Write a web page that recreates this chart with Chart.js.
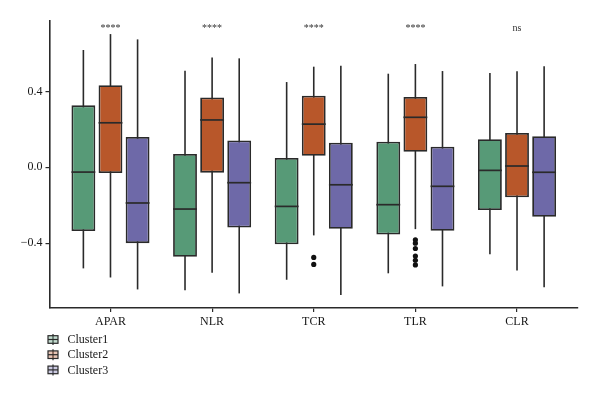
<!DOCTYPE html>
<html><head><meta charset="utf-8">
<script src="https://cdn.jsdelivr.net/npm/chart.js@4.4.0/dist/chart.umd.min.js"></script>
<style>html,body{margin:0;padding:0;background:#fff}#wrap{width:600px;height:398px;position:relative}</style>
</head><body><div id="wrap"><canvas id="c"></canvas></div>
<script>
const categories = ['APAR', 'NLR', 'TCR', 'TLR', 'CLR'];
const seriesNames = ['Cluster1', 'Cluster2', 'Cluster3'];
const sigLabels = ['****', '****', '****', '****', 'ns'];
const yTickValues = [-0.4, 0.0, 0.4];
const yTickLabels = ['\u22120.4', '0.0', '0.4'];

// Cluster1
const c1Low  = [-0.533, -0.648, -0.593, -0.559, -0.459];
const c1Q1   = [-0.336, -0.472, -0.406, -0.354, -0.225];
const c1Med  = [-0.025, -0.220, -0.206, -0.197, -0.016];
const c1Q3   = [ 0.327,  0.070,  0.049,  0.135,  0.148];
const c1High = [ 0.619,  0.510,  0.450,  0.494,  0.498];
// Cluster2
const c2Low  = [-0.581, -0.556, -0.359, -0.326, -0.544];
const c2Q1   = [-0.030, -0.028,  0.061,  0.082, -0.158];
const c2Med  = [ 0.235,  0.250,  0.228,  0.264,  0.007];
const c2Q3   = [ 0.433,  0.369,  0.378,  0.371,  0.181];
const c2High = [ 0.703,  0.580,  0.531,  0.545,  0.507];
const c2Outliers = [[], [], [-0.475, -0.512], [-0.382, -0.400, -0.428, -0.468, -0.490, -0.515], []];
// Cluster3
const c3Low  = [-0.644, -0.665, -0.674, -0.628, -0.632];
const c3Q1   = [-0.400, -0.317, -0.324, -0.335, -0.261];
const c3Med  = [-0.188, -0.081, -0.092, -0.100, -0.026];
const c3Q3   = [ 0.160,  0.142,  0.130,  0.109,  0.164];
const c3High = [ 0.675,  0.575,  0.536,  0.508,  0.533];

const colors = ['#579a77', '#b8572a', '#6e69a8'];
const legendFills = ['rgba(87,154,119,0.35)', 'rgba(184,87,42,0.35)', 'rgba(110,105,168,0.35)'];
const EDGE = '#2a2a2a';
const TEXT = '#161616';
const FONT = '"Liberation Serif", "DejaVu Serif", serif';

const stats = [
  {low: c1Low, q1: c1Q1, med: c1Med, q3: c1Q3, high: c1High},
  {low: c2Low, q1: c2Q1, med: c2Med, q3: c2Q3, high: c2High},
  {low: c3Low, q1: c3Q1, med: c3Med, q3: c3Q3, high: c3High}
];

const datasets = stats.map((s, k) => ({
  type: 'bar',
  label: seriesNames[k],
  data: categories.map((c, i) => ({x: i + 1, y: [s.q1[i], s.q3[i]]})),
  backgroundColor: colors[k],
  borderColor: EDGE,
  borderWidth: 1.8,
  borderSkipped: false,
  categoryPercentage: 0.8,
  barPercentage: 0.88,
  order: 2
}));

const outlierPoints = [];
c2Outliers.forEach((arr, i) => arr.forEach(v => outlierPoints.push({x: i + 1, y: v})));
datasets.push({
  type: 'scatter',
  label: 'outliers',
  data: outlierPoints,
  pointRadius: 2.6,
  pointBackgroundColor: '#111',
  pointBorderWidth: 0,
  order: 1
});

const boxPlugin = {
  id: 'boxparts',
  beforeDatasetsDraw(chart) {
    const ctx = chart.ctx, ys = chart.scales.y;
    ctx.save();
    ctx.strokeStyle = EDGE; ctx.lineWidth = 1.6;
    stats.forEach((s, k) => {
      const meta = chart.getDatasetMeta(k);
      meta.data.forEach((el, i) => {
        ctx.beginPath();
        ctx.moveTo(el.x, ys.getPixelForValue(s.low[i]));
        ctx.lineTo(el.x, ys.getPixelForValue(s.high[i]));
        ctx.stroke();
      });
    });
    ctx.restore();
  },
  afterDatasetsDraw(chart) {
    const ctx = chart.ctx, ys = chart.scales.y, xs = chart.scales.x;
    ctx.save();
    ctx.strokeStyle = EDGE; ctx.lineWidth = 1.7;
    stats.forEach((s, k) => {
      const meta = chart.getDatasetMeta(k);
      meta.data.forEach((el, i) => {
        const y = ys.getPixelForValue(s.med[i]);
        ctx.beginPath();
        ctx.moveTo(el.x - el.width / 2, y);
        ctx.lineTo(el.x + el.width / 2, y);
        ctx.stroke();
      });
    });
    // significance labels
    ctx.fillStyle = '#333';
    ctx.textAlign = 'center';
    ctx.textBaseline = 'alphabetic';
    ctx.font = '10px ' + FONT;
    sigLabels.forEach((t, i) => {
      ctx.fillText(t, xs.getPixelForValue(i + 1), chart.chartArea.top + 10);
    });
    ctx.restore();
  },
  afterDraw(chart) {
    const ctx = chart.ctx;
    const x0 = chart.chartArea.left - 1.5;
    const yStart = chart.chartArea.bottom + 31.5;
    ctx.save();
    ctx.font = '12px ' + FONT;
    ctx.textBaseline = 'middle';
    ctx.textAlign = 'left';
    seriesNames.forEach((name, k) => {
      const yc = yStart + k * 15.2;
      ctx.strokeStyle = EDGE; ctx.lineWidth = 1.2;
      ctx.beginPath(); ctx.moveTo(x0 + 5, yc - 5.5); ctx.lineTo(x0 + 5, yc + 5.5); ctx.stroke();
      ctx.fillStyle = legendFills[k];
      ctx.fillRect(x0, yc - 3.8, 10, 7.6);
      ctx.strokeRect(x0, yc - 3.8, 10, 7.6);
      ctx.beginPath(); ctx.moveTo(x0, yc); ctx.lineTo(x0 + 10, yc); ctx.stroke();
      ctx.fillStyle = TEXT;
      ctx.fillText(name, x0 + 19.5, yc + 0.5);
    });
    ctx.restore();
  }
};

new Chart(document.getElementById('c'), {
  type: 'bar',
  data: {datasets},
  options: {
    responsive: true,
    maintainAspectRatio: false,
    animation: false,
    layout: {padding: {top: 21, right: 22, left: 0, bottom: 0}},
    plugins: {legend: {display: false}, tooltip: {enabled: false}},
    scales: {
      x: {
        type: 'linear',
        offset: false,
        min: 0.4, max: 5.6,
        afterBuildTicks: s => { s.ticks = categories.map((c, i) => ({value: i + 1})); },
        afterFit: s => { s.height = 90; },
        ticks: {
          callback: (v, i) => categories[i],
          autoSkip: false, maxRotation: 0,
          color: TEXT, font: {family: FONT, size: 12}, padding: 3
        },
        grid: {display: true, offset: false, drawOnChartArea: false, drawTicks: true, tickLength: 4, color: EDGE, lineWidth: 1.2},
        border: {display: true, color: EDGE, width: 1.6}
      },
      y: {
        type: 'linear',
        min: -0.742, max: 0.772,
        afterBuildTicks: s => { s.ticks = yTickValues.map(v => ({value: v})); },
        afterFit: s => { s.width = 49.5; },
        ticks: {
          callback: (v, i) => yTickLabels[i],
          color: TEXT, font: {family: FONT, size: 12}, padding: 3
        },
        grid: {display: true, drawOnChartArea: false, drawTicks: true, tickLength: 4, color: EDGE, lineWidth: 1.2},
        border: {display: true, color: EDGE, width: 1.6}
      }
    }
  },
  plugins: [boxPlugin]
});
</script>
</body></html>
